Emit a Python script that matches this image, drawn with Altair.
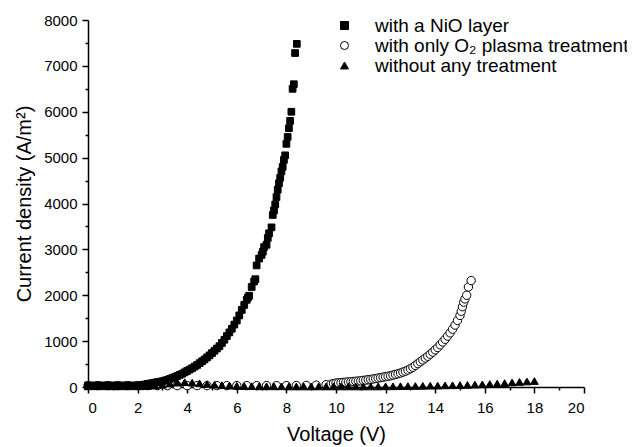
import altair as alt
import pandas as pd

series_names = ["with a NiO layer", "with only O\u2082 plasma treatment", "without any treatment"]
series_shapes = ["square", "circle", "triangle-up"]
series_fills = ["black", "white", "black"]
series_strokes = ["black", "black", "black"]
series_sizes = [45, 70, 60]

x_ticks = list(range(0, 21))
y_ticks = list(range(0, 8001, 500))

# (voltage V, current density A/m^2)
nio_points = [
    (0.0, 35), (0.2, 35), (0.4, 35), (0.6, 35), (0.8, 35), (1.0, 35), (1.2, 35),
    (1.4, 35), (1.6, 35), (1.8, 35), (2.0, 35), (2.2, 45), (2.3, 55), (2.4, 65),
    (2.5, 75), (2.6, 85), (2.7, 95), (2.8, 105), (2.9, 115), (3.0, 125), (3.1, 140),
    (3.2, 155), (3.3, 175), (3.4, 195), (3.5, 215), (3.6, 240), (3.7, 265),
    (3.8, 290), (3.9, 320), (4.0, 350), (4.1, 380), (4.2, 410), (4.3, 445),
    (4.4, 480), (4.5, 520), (4.6, 560), (4.7, 600), (4.8, 645), (4.9, 690),
    (5.0, 740), (5.1, 790), (5.2, 840), (5.3, 890), (5.4, 960), (5.5, 1030),
    (5.6, 1110), (5.7, 1190), (5.8, 1270), (5.9, 1360), (6.0, 1450), (6.1, 1560),
    (6.2, 1680), (6.3, 1790), (6.4, 1900), (6.45, 1950), (6.5, 1990), (6.6, 2180),
    (6.7, 2300), (6.75, 2350), (6.8, 2650), (6.9, 2800), (7.0, 2880), (7.05, 2950),
    (7.1, 3050), (7.2, 3100), (7.25, 3250), (7.3, 3350), (7.4, 3480), (7.45, 3750),
    (7.5, 3850), (7.55, 3980), (7.6, 4140), (7.65, 4300), (7.7, 4440), (7.75, 4560),
    (7.8, 4700), (7.85, 4800), (7.9, 4950), (7.95, 5050), (8.0, 5300), (8.05, 5450),
    (8.1, 5640), (8.15, 5800), (8.2, 6000), (8.25, 6500), (8.3, 6600), (8.35, 7280),
    (8.42, 7480),
]

o2_points = [
    (0.0, 30), (0.4, 30), (0.8, 30), (1.2, 30), (1.6, 30), (2.0, 30), (2.4, 30),
    (2.8, 30), (3.2, 30), (3.6, 30), (4.0, 30), (4.4, 30), (4.8, 30), (5.2, 30),
    (5.6, 30), (6.0, 30), (6.4, 30), (6.8, 30), (7.2, 30), (7.6, 30), (8.0, 30),
    (8.4, 32), (8.8, 35), (9.2, 40), (9.6, 50), (9.8, 60), (9.9, 75), (10.0, 85),
    (10.1, 90), (10.2, 95), (10.3, 100), (10.4, 105), (10.5, 110), (10.6, 115),
    (10.7, 120), (10.8, 125), (10.9, 130), (11.0, 135), (11.1, 145), (11.2, 150),
    (11.3, 160), (11.4, 165), (11.5, 175), (11.6, 185), (11.7, 195), (11.8, 205),
    (11.9, 215), (12.0, 225), (12.1, 235), (12.2, 245), (12.3, 260), (12.4, 275),
    (12.5, 290), (12.6, 305), (12.7, 325), (12.8, 345), (12.9, 370), (13.0, 400),
    (13.1, 430), (13.2, 470), (13.3, 510), (13.4, 550), (13.5, 590), (13.6, 630),
    (13.7, 670), (13.8, 715), (13.9, 760), (14.0, 810), (14.1, 860), (14.2, 920),
    (14.3, 980), (14.4, 1040), (14.5, 1110), (14.6, 1180), (14.7, 1260),
    (14.8, 1350), (14.9, 1450), (15.0, 1560), (15.05, 1650), (15.1, 1750),
    (15.15, 1850), (15.2, 1920), (15.27, 2000), (15.34, 2180), (15.45, 2320),
]

bare_points = [
    (0.0, 15), (0.3, 15), (0.6, 15), (0.9, 15), (1.2, 15), (1.5, 15), (1.8, 15),
    (2.1, 15), (2.4, 20), (2.7, 30), (3.0, 50), (3.3, 75), (3.6, 95), (3.9, 105),
    (4.2, 95), (4.5, 80), (4.8, 65), (5.1, 50), (5.4, 40), (5.7, 30), (6.0, 25),
    (6.3, 20), (6.6, 18), (6.9, 15), (7.2, 15), (7.5, 15), (7.8, 15), (8.1, 12),
    (8.4, 12), (8.7, 12), (9.0, 12), (9.3, 12), (9.6, 12), (9.9, 12), (10.2, 12),
    (10.5, 12), (10.8, 12), (11.1, 12), (11.4, 12), (11.7, 12), (12.0, 15),
    (12.3, 15), (12.6, 18), (12.9, 20), (13.2, 22), (13.5, 25), (13.8, 28),
    (14.1, 30), (14.4, 35), (14.7, 38), (15.0, 42), (15.3, 46), (15.6, 52),
    (15.9, 58), (16.2, 65), (16.5, 75), (16.8, 85), (17.1, 100), (17.4, 110),
    (17.7, 120), (18.0, 130),
]

rows = []
for name, pts in [(series_names[2], bare_points),
                  (series_names[1], o2_points),
                  (series_names[0], nio_points)]:
    for v, j in pts:
        rows.append({"series": name, "V": v, "J": j})
df = pd.DataFrame(rows)

FONT = "Liberation Sans"

x_axis = alt.Axis(
    values=x_ticks,
    labelExpr="datum.value % 2 === 0 ? datum.label : ''",
    tickSize={"condition": {"test": "datum.value % 2 === 0", "value": 6}, "value": 3},
    labelPadding=7,
    title="Voltage (V)",
    titlePadding=9,
)
y_axis = alt.Axis(
    values=y_ticks,
    labelExpr="datum.value % 1000 === 0 ? datum.label : ''",
    tickSize={"condition": {"test": "datum.value % 1000 === 0", "value": 6}, "value": 3},
    labelPadding=5,
    format="d",
    title="Current density (A/m\u00b2)",
    titlePadding=9,
)

base = alt.Chart(df).encode(
    x=alt.X("V:Q", scale=alt.Scale(domain=[0, 20], nice=False), axis=x_axis),
    y=alt.Y("J:Q", scale=alt.Scale(domain=[0, 8000], nice=False), axis=y_axis),
    shape=alt.Shape("series:N", scale=alt.Scale(domain=series_names, range=series_shapes),
                    legend=alt.Legend(title=None)),
    fill=alt.Fill("series:N", scale=alt.Scale(domain=series_names, range=series_fills),
                  legend=alt.Legend(title=None)),
    stroke=alt.Stroke("series:N", scale=alt.Scale(domain=series_names, range=series_strokes),
                      legend=alt.Legend(title=None)),
)

# draw order: O2 plasma, untreated over it, NiO on top
layers = []
for idx in [1, 2, 0]:
    layers.append(
        base.transform_filter(alt.datum.series == series_names[idx])
        .mark_point(strokeWidth=1, opacity=1, size=series_sizes[idx])
    )

chart = alt.layer(*layers).properties(
    width=496,
    height=367,
    autosize=alt.AutoSizeParams(type="none"),
    padding={"left": 80, "top": 12, "right": 43, "bottom": 60},
).configure_view(
    stroke=None
).configure_axis(
    grid=False,
    domainColor="black",
    domainWidth=1.5,
    tickColor="black",
    tickWidth=1.5,
    labelFont=FONT,
    labelFontSize=15,
    labelColor="black",
    titleFont=FONT,
    titleFontSize=20,
    titleFontWeight="normal",
    titleColor="black",
).configure_legend(
    orient="none",
    legendX=247,
    legendY=-4,
    labelFont=FONT,
    labelFontSize=19,
    labelColor="black",
    labelOffset=21,
    symbolSize=64,
    symbolStrokeWidth=1,
    rowPadding=0,
    padding=0,
    labelLimit=400,
)

chart.save("out.html", embed_options={"renderer": "svg", "actions": False})
